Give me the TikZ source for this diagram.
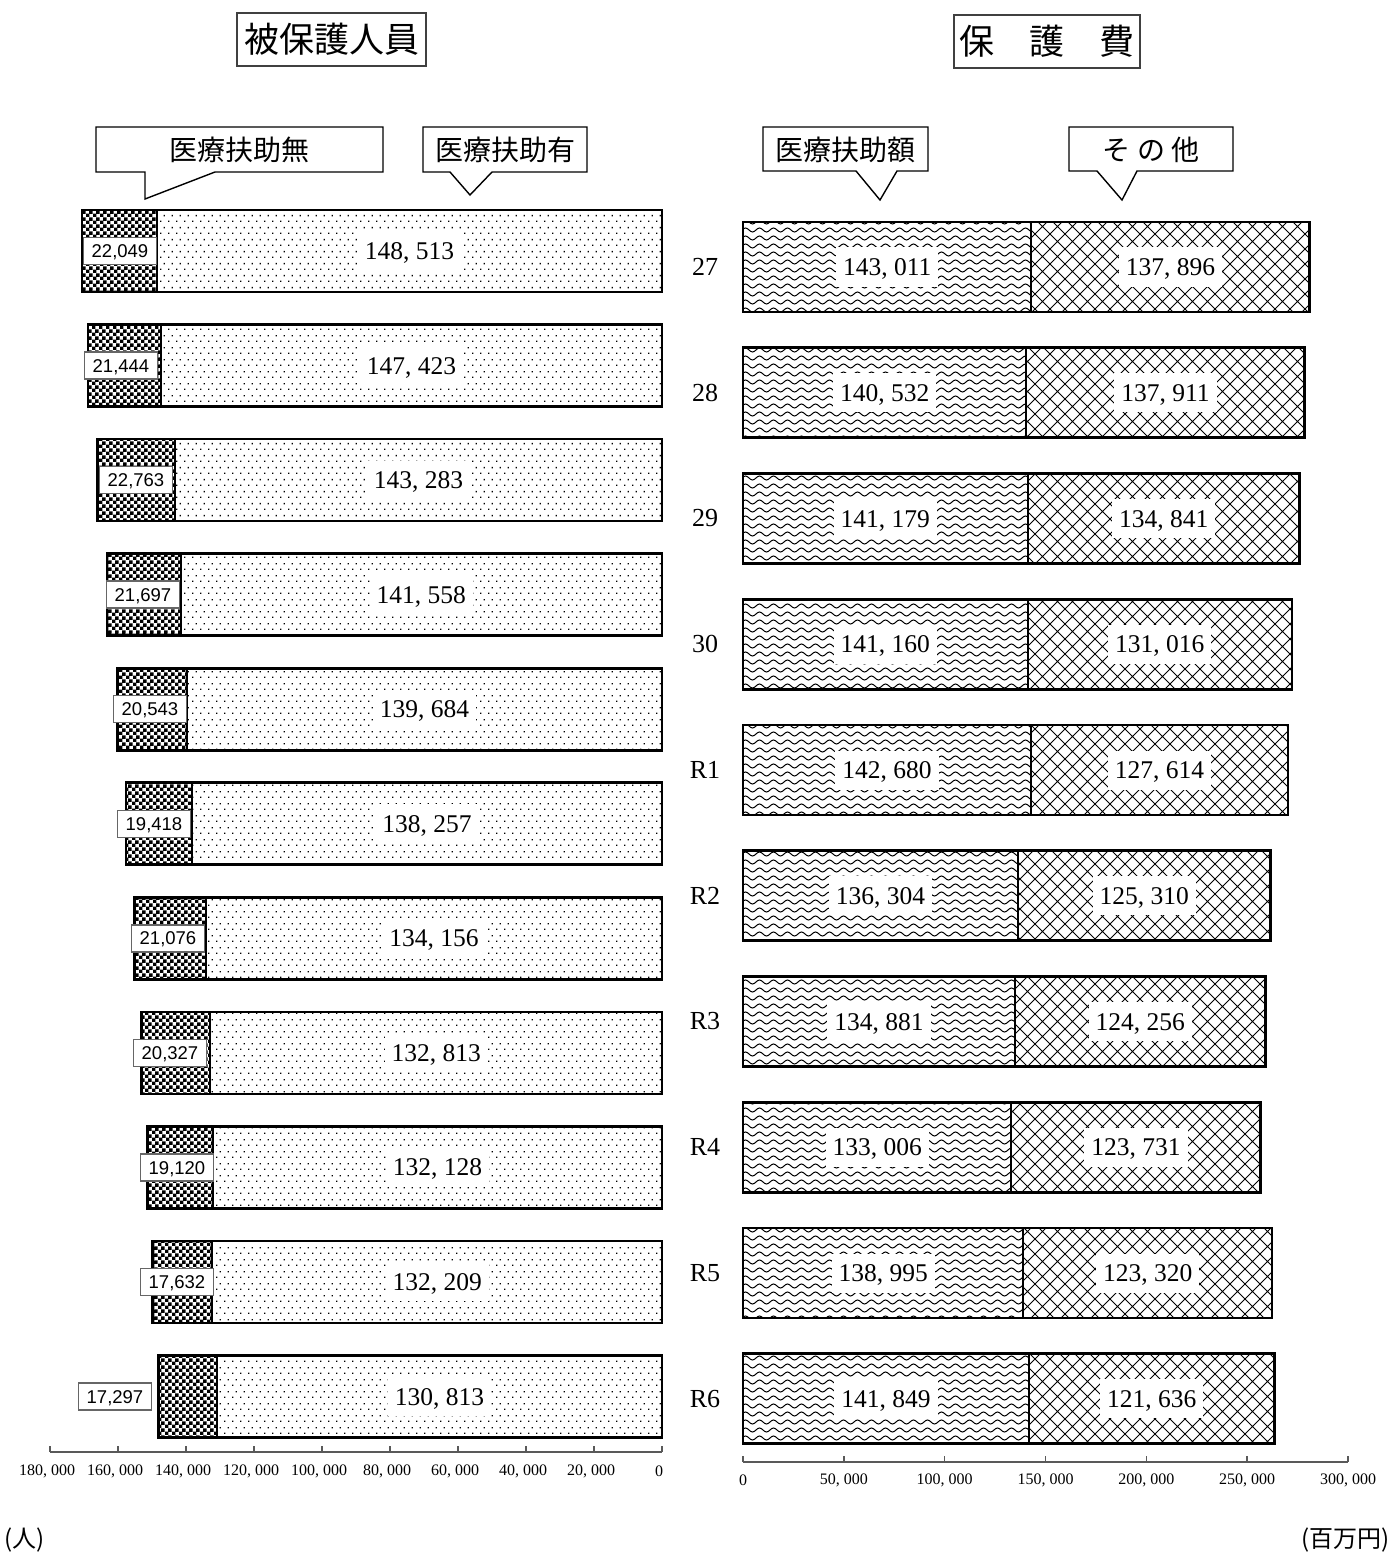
\documentclass[tikz,border=0pt]{standalone}
\usepackage{fontspec}
\setmainfont{Liberation Serif}
\newfontfamily\jpfont{Noto Sans CJK JP}
\newfontfamily\lblsans{Liberation Sans}
\usetikzlibrary{patterns}

\pgfdeclarepatternformonly{pdots}{\pgfqpoint{0pt}{0pt}}{\pgfqpoint{8pt}{12pt}}{\pgfqpoint{8pt}{12pt}}{%
  \pgfpathrectangle{\pgfqpoint{0pt}{0pt}}{\pgfqpoint{1.5pt}{1.5pt}}%
  \pgfpathrectangle{\pgfqpoint{4pt}{6pt}}{\pgfqpoint{1.5pt}{1.5pt}}%
  \pgfusepath{fill}}
\pgfdeclarepatternformonly{pchecker}{\pgfqpoint{0pt}{0pt}}{\pgfqpoint{6.6pt}{6.6pt}}{\pgfqpoint{6.6pt}{6.6pt}}{%
  \pgfpathrectangle{\pgfqpoint{0pt}{0pt}}{\pgfqpoint{3.6pt}{3.6pt}}%
  \pgfpathrectangle{\pgfqpoint{3.3pt}{3.3pt}}{\pgfqpoint{3.6pt}{3.6pt}}%
  \pgfusepath{fill}}
\pgfdeclarepatternformonly{pwave}{\pgfqpoint{-1pt}{-1pt}}{\pgfqpoint{15pt}{9pt}}{\pgfqpoint{14pt}{8pt}}{%
  \pgfsetlinewidth{1pt}%
  \pgfpathmoveto{\pgfqpoint{0pt}{4pt}}%
  \pgfpathsine{\pgfqpoint{3.5pt}{2pt}}%
  \pgfpathcosine{\pgfqpoint{3.5pt}{-2pt}}%
  \pgfpathsine{\pgfqpoint{3.5pt}{-2pt}}%
  \pgfpathcosine{\pgfqpoint{3.5pt}{2pt}}%
  \pgfusepath{stroke}}
\pgfdeclarepatternformonly{pdiag}{\pgfqpoint{-1pt}{-1pt}}{\pgfqpoint{16pt}{16pt}}{\pgfqpoint{15pt}{15pt}}{%
  \pgfsetlinewidth{0.8pt}%
  \pgfpathmoveto{\pgfqpoint{0pt}{0pt}}\pgfpathlineto{\pgfqpoint{15pt}{15pt}}%
  \pgfpathmoveto{\pgfqpoint{0pt}{15pt}}\pgfpathlineto{\pgfqpoint{15pt}{0pt}}%
  \pgfusepath{stroke}}

\tikzset{
  biglab/.style={fill=white, inner xsep=7pt, inner ysep=11pt, text height=17pt, text depth=0pt,
    font=\fontsize{25.5}{25.5}\selectfont},
  smalllab/.style={draw=black!60, line width=1.5pt, fill=white, inner sep=0pt, text height=13.3pt, text depth=0pt,
    minimum width=73pt, minimum height=27pt, font=\lblsans\fontsize{18.5}{18.5}\selectfont},
  barline/.style={line width=2.6pt},
  divline/.style={line width=2pt},
  callout/.style={draw=black, line width=1.4pt, fill=white, line join=miter},
  calltext/.style={font=\jpfont\fontsize{28}{28}\selectfont, inner sep=0pt},
  titlebox/.style={draw=black!75, line width=1.3pt, inner sep=0pt, font=\jpfont\fontsize{35}{35}\selectfont},
  axisline/.style={draw=black!65, line width=1.6pt},
  ticklab/.style={font=\fontsize{16}{16}\selectfont, inner sep=0pt},
  yearlab/.style={font=\fontsize{26}{26}\selectfont, inner sep=0pt},
  unitlab/.style={font=\jpfont\fontsize{24}{24}\selectfont, inner sep=0pt},
}

\begin{document}
\begin{tikzpicture}[x=1pt,y=-1pt]
\fill[white] (0,0) rectangle (1392,1554);
\useasboundingbox (0,0) rectangle (1392,1554);

% titles
\node[titlebox, minimum width=189pt, minimum height=53pt] (t1) at (331.5,39.5) {被保護人員};
\node[titlebox, minimum width=186pt, minimum height=53pt] (t2) at (1047,41.5) {保　護　費};

% callouts
\draw[callout] (96,127) -- (383,127) -- (383,172) -- (215,172) -- (145,199) -- (145,172) -- (96,172) -- cycle;
\node[calltext] (c1) at (239.5,150) {医療扶助無};
\draw[callout] (423,127) -- (587,127) -- (587,172) -- (492,172) -- (470,195) -- (450,172) -- (423,172) -- cycle;
\node[calltext] (c2) at (505,150) {医療扶助有};
\draw[callout] (763,127) -- (928,127) -- (928,171) -- (897,171) -- (880,200) -- (856,171) -- (763,171) -- cycle;
\node[calltext] (c3) at (845.5,149.5) {医療扶助額};
\draw[callout] (1069,127) -- (1233,127) -- (1233,171) -- (1137,171) -- (1122,200) -- (1097,171) -- (1069,171) -- cycle;
\node[calltext] (c4) at (1151,149.5) {そ の 他};

% left bars
\foreach \no/\yes/\lx/\nos/\yess [count=\i from 0] in {
 22.049/148.513/120/{22,049}/{148, 513},
 21.444/147.423/121/{21,444}/{147, 423},
 22.763/143.283/136/{22,763}/{143, 283},
 21.697/141.558/143/{21,697}/{141, 558},
 20.543/139.684/150/{20,543}/{139, 684},
 19.418/138.257/154/{19,418}/{138, 257},
 21.076/134.156/168/{21,076}/{134, 156},
 20.327/132.813/170/{20,327}/{132, 813},
 19.120/132.128/177/{19,120}/{132, 128},
 17.632/132.209/177/{17,632}/{132, 209},
 17.297/130.813/115/{17,297}/{130, 813}}{
  \pgfmathsetmacro\ytop{210+114.55*\i}
  \pgfmathsetmacro\ybot{\ytop+82}
  \pgfmathsetmacro\ymid{\ytop+41}
  \pgfmathsetmacro\xdv{662-3.4*\yes}
  \pgfmathsetmacro\xlf{\xdv-3.4*\no}
  \pgfmathsetmacro\xbig{(\xdv+662)/2}
  \fill[pattern=pchecker] (\xlf,\ytop) rectangle (\xdv,\ybot);
  \fill[pattern=pdots] (\xdv,\ytop) rectangle (662,\ybot);
  \draw[divline] (\xdv,\ytop) -- (\xdv,\ybot);
  \draw[barline] (\xlf,\ytop) rectangle (662,\ybot);
  \node[biglab] (L\i) at (\xbig,\ymid) {\yess};
  \node[smalllab] (S\i) at (\lx,\ymid) {\nos};
}

% right bars
\foreach \ma/\ot/\yr/\mas/\ots [count=\i from 0] in {
 143.011/137.896/27/{143, 011}/{137, 896},
 140.532/137.911/28/{140, 532}/{137, 911},
 141.179/134.841/29/{141, 179}/{134, 841},
 141.160/131.016/30/{141, 160}/{131, 016},
 142.680/127.614/R1/{142, 680}/{127, 614},
 136.304/125.310/R2/{136, 304}/{125, 310},
 134.881/124.256/R3/{134, 881}/{124, 256},
 133.006/123.731/R4/{133, 006}/{123, 731},
 138.995/123.320/R5/{138, 995}/{123, 320},
 141.849/121.636/R6/{141, 849}/{121, 636}}{
  \pgfmathsetmacro\ytop{222+125.75*\i}
  \pgfmathsetmacro\ybot{\ytop+90}
  \pgfmathsetmacro\ymid{\ytop+45}
  \pgfmathsetmacro\xdv{743+2.01667*\ma}
  \pgfmathsetmacro\xrt{\xdv+2.01667*\ot}
  \pgfmathsetmacro\xa{(743+\xdv)/2}
  \pgfmathsetmacro\xb{(\xdv+\xrt)/2}
  \fill[pattern=pwave] (743,\ytop) rectangle (\xdv,\ybot);
  \fill[pattern=pdiag] (\xdv,\ytop) rectangle (\xrt,\ybot);
  \draw[divline] (\xdv,\ytop) -- (\xdv,\ybot);
  \draw[barline] (743,\ytop) rectangle (\xrt,\ybot);
  \node[biglab] (A\i) at (\xa,\ymid) {\mas};
  \node[biglab] (B\i) at (\xb,\ymid) {\ots};
  \node[yearlab] (Y\i) at (705,\ymid) {\yr};
}

% left axis
\draw[axisline] (50,1452) coordinate (la0) -- (662,1452) coordinate (la1);
\foreach \k/\t in {0/{180, 000},1/{160, 000},2/{140, 000},3/{120, 000},4/{100, 000},5/{80, 000},6/{60, 000},7/{40, 000},8/{20, 000},9/0}{
  \pgfmathsetmacro\xt{50+68*\k}
  \draw[axisline] (\xt,1446) -- (\xt,1452);
  \node[ticklab] (lt\k) at (\xt-3,1471) {\t};
}
% right axis
\draw[axisline] (743,1462) coordinate (ra0) -- (1348,1462) coordinate (ra1);
\foreach \k/\t in {0/0,1/{50, 000},2/{100, 000},3/{150, 000},4/{200, 000},5/{250, 000},6/{300, 000}}{
  \pgfmathsetmacro\xt{743+100.8333*\k}
  \draw[axisline] (\xt,1456) -- (\xt,1462);
  \node[ticklab] (rt\k) at (\xt,1480) {\t};
}

\node[unitlab, anchor=west] (u1) at (4,1540) {(人)};
\node[unitlab, anchor=east] (u2) at (1390,1540) {(百万円)};
\end{tikzpicture}
\end{document}
